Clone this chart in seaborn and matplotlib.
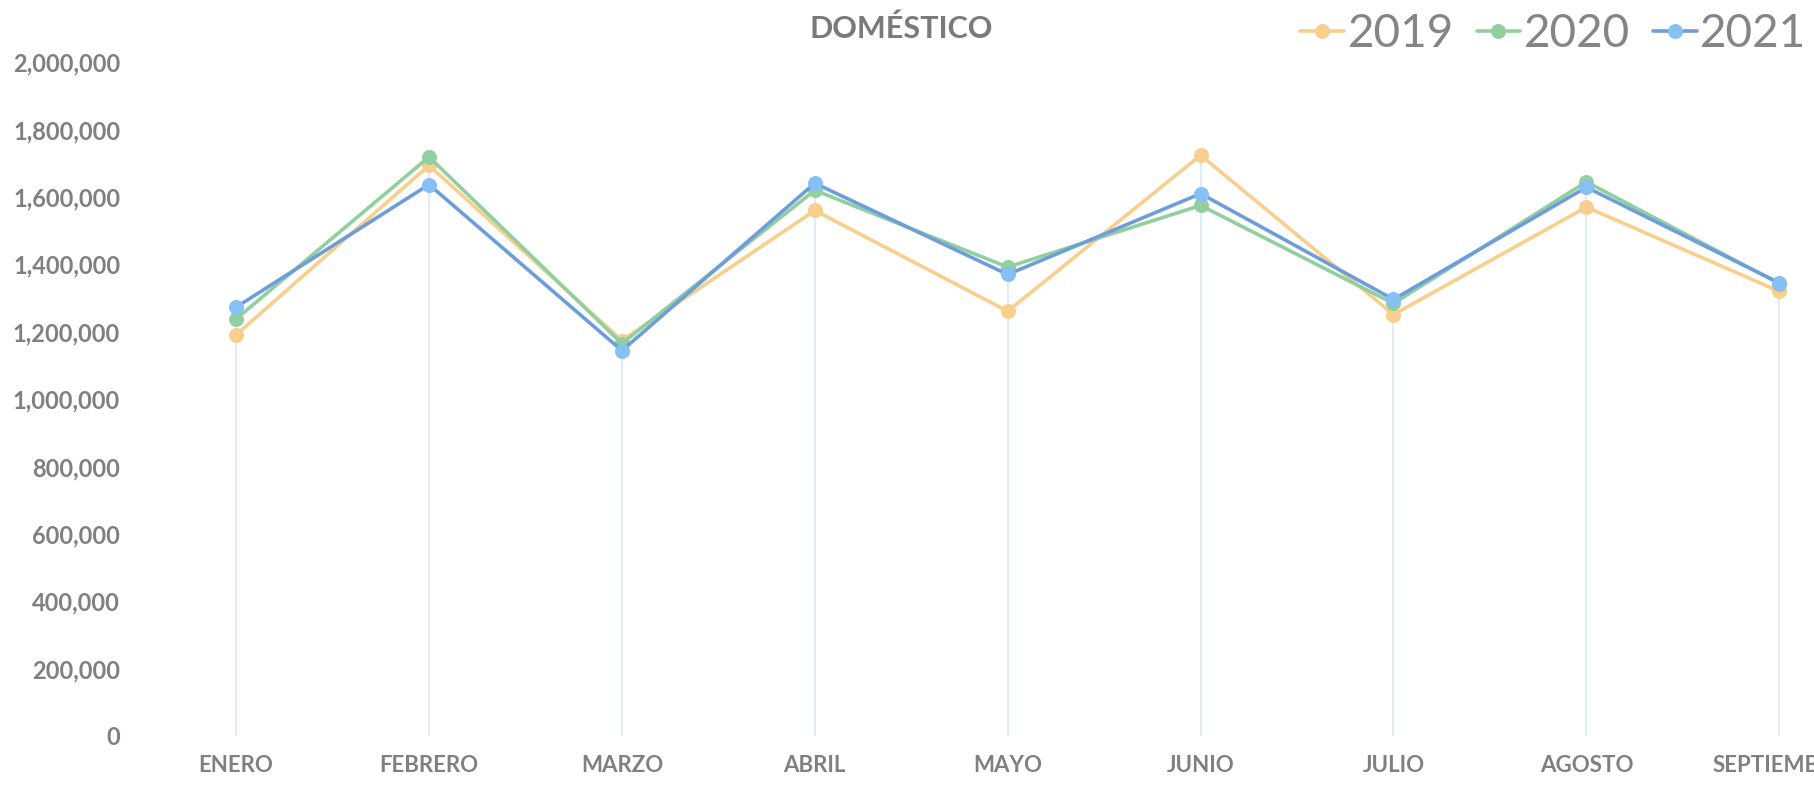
import numpy as np
import matplotlib
matplotlib.use('Agg')
import matplotlib.pyplot as plt
import pandas as pd
import seaborn as sns
from matplotlib.ticker import FuncFormatter

meses = ['ENERO', 'FEBRERO', 'MARZO', 'ABRIL', 'MAYO', 'JUNIO', 'JULIO', 'AGOSTO', 'SEPTIEMBRE']
v2019 = [1191000, 1694000, 1174000, 1560000, 1261000, 1724000, 1251000, 1570000, 1320000]
v2020 = [1238000, 1719000, 1165000, 1620000, 1392000, 1575000, 1284000, 1645000, 1343000]
v2021 = [1273000, 1637000, 1144000, 1641000, 1370000, 1610000, 1296000, 1629000, 1345000]
years = ['2019', '2020', '2021']
line_colors = ['#f8cf8c', '#92cfa0', '#6e9ed9']
marker_colors = ['#f8cf8c', '#92cfa0', '#86c0f4']

sns.set_style('white')
plt.rcParams['font.family'] = ['Lato', 'DejaVu Sans']

fig = plt.figure(figsize=(18.14, 7.88), dpi=100)
ax = fig.add_axes([0.077, 0.066, 0.923, 0.855])

df = pd.DataFrame({'mes': meses, '2019': v2019, '2020': v2020, '2021': v2021})

# lineas de caida (drop lines) desde el maximo de cada mes
tops = df[years].max(axis=1).values
ax.vlines(np.arange(len(meses)), 0, tops, color='#d9eaf8', lw=1.2, zorder=0)

for y, lc, mc in zip(years, line_colors, marker_colors):
    sns.lineplot(data=df, x='mes', y=y, ax=ax, sort=False, color=lc, lw=2.6,
                 marker='o', markersize=10, markerfacecolor=mc, markeredgecolor=mc,
                 label=y)

ax.set_xlim(-0.5, 8.18)
ax.set_ylim(0, 2000000)
ax.set_yticks(np.arange(0, 2000001, 200000))
ax.yaxis.set_major_formatter(FuncFormatter(lambda v, p: f'{int(v):,}'))
for s in ax.spines.values():
    s.set_visible(False)
ax.set_xlabel('')
ax.set_ylabel('')
ax.tick_params(axis='y', labelsize=17, labelcolor='#808080', pad=14, length=0)
ax.tick_params(axis='x', labelsize=16, labelcolor='#808080', pad=14, length=0)
for t in ax.get_xticklabels() + ax.get_yticklabels():
    t.set_fontweight('bold')

fig.text(0.497, 0.964, 'DOMÉSTICO', ha='center', va='center', fontsize=22,
         fontweight='bold', color='#7a7a7a')

ax.get_legend().remove()
h, l = ax.get_legend_handles_labels()
fig.legend(h, l, ncol=3, loc='center right', bbox_to_anchor=(1.006, 0.957),
           frameon=False, fontsize=33, labelcolor='#858585', handlelength=0.95,
           handletextpad=0.08, columnspacing=0.5, borderaxespad=0)

fig.savefig('out.png', dpi=100)
